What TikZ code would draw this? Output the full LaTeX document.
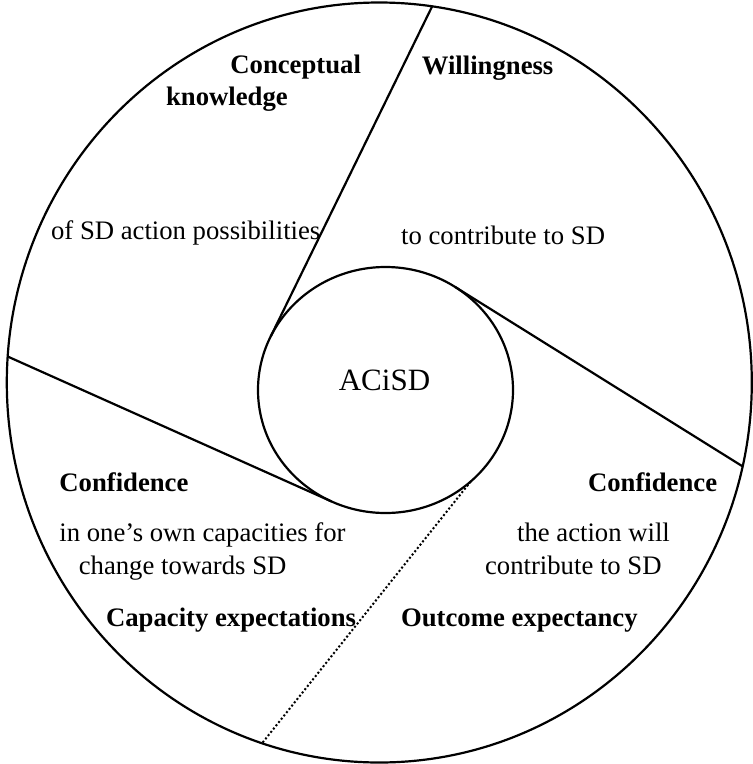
\documentclass[tikz,border=0pt]{standalone}
\usepackage{fontspec}
\setmainfont{Liberation Serif}
\usetikzlibrary{shapes.geometric}
\begin{document}
\begin{tikzpicture}[x=1pt,y=-1pt,line width=2.2pt,
    every node/.style={font=\fontsize{26.7}{31.4}\selectfont},
    ring/.style={draw,ellipse,outer sep=0pt,inner sep=0pt},
    txt/.style={anchor=base west,inner sep=0pt},
    head/.style={txt,font=\fontsize{26.7}{31.4}\selectfont\bfseries},
    dotline/.style={line width=2pt,dash pattern=on 2pt off 2.2pt}]
    \useasboundingbox (0,0) rectangle (753,764);

    % Circles
    \node[ring,minimum width=745pt,minimum height=760pt] (outer) at (379.3,382.5) {};
    \node[ring,minimum width=255pt,minimum height=246pt] (acisd) at (385.5,390) {};
    \node[anchor=base,inner sep=0pt,font=\fontsize{31}{36}\selectfont] (core) at (384.5,390) {ACiSD};

    % Dividers
    \draw (acisd.155) -- (outer.82);
    \draw (acisd.56) -- (outer.347);
    \draw (acisd.244) -- (outer.176);
    \draw[dotline] (acisd.313) -- (outer.252);

    % Conceptual knowledge
    \node[head] (concept) at (229.3,73.3) {Conceptual};
    \node[head] (knowledge) at (165,105) {knowledge};
    \node[txt] (ofsd) at (50,239.3) {of SD action possibilities};

    % Willingness
    \node[head] (willing) at (420.7,74.3) {Willingness};
    \node[txt] (tocontrib) at (400,244.3) {to contribute to SD};

    % Capacity expectations
    \node[head] (confleft) at (58.3,491.7) {Confidence};
    \node[txt] (ownone) at (58.3,541.7) {in one’s own capacities for};
    \node[txt] (owntwo) at (77.7,574.3) {change towards SD};
    \node[head] (capacity) at (105,626.7) {Capacity expectations};

    % Outcome expectancy
    \node[head] (confright) at (587,491.7) {Confidence};
    \node[txt] (actone) at (516,541.7) {the action will};
    \node[txt] (acttwo) at (484,574.3) {contribute to SD};
    \node[head] (outcome) at (400,626.7) {Outcome expectancy};

\end{tikzpicture}
\end{document}
